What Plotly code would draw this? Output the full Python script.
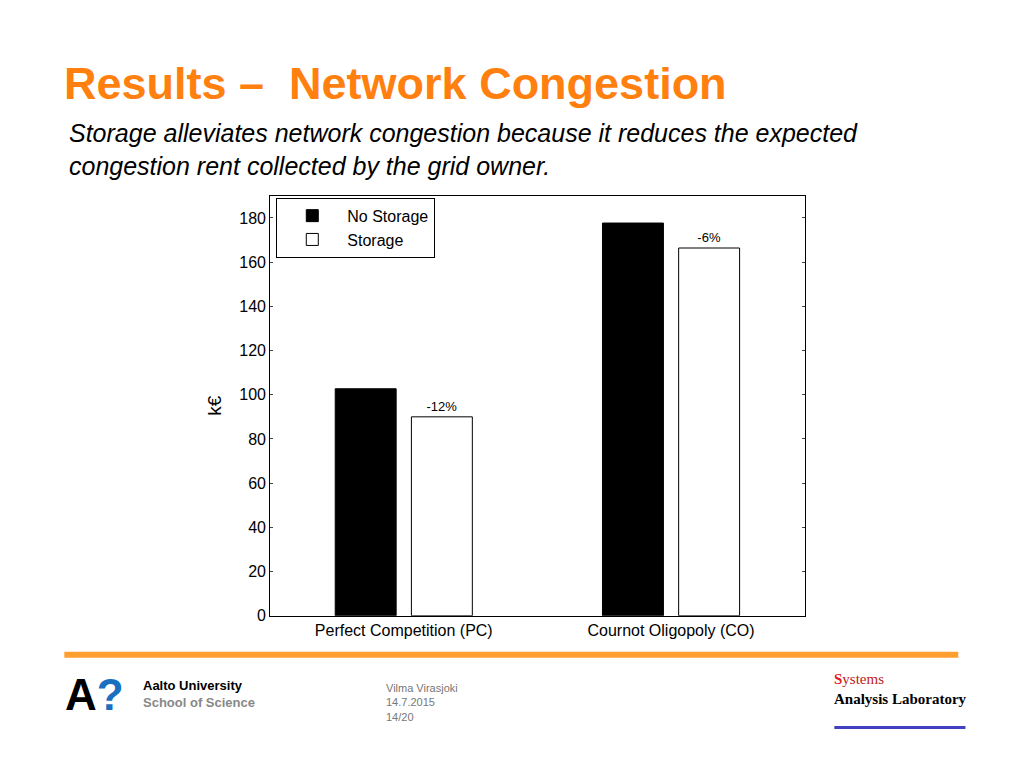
import plotly.graph_objects as go

categories = ["Perfect Competition (PC)", "Cournot Oligopoly (CO)"]
no_storage = [102.7, 177.7]
storage = [90.0, 166.4]
changes = ["-12%", "-6%"]

fig = go.Figure()
fig.add_bar(x=categories, y=no_storage, name="No Storage",
            marker=dict(color="black", line=dict(color="black", width=1)))
fig.add_bar(x=categories, y=storage, name="Storage", text=changes,
            textposition="outside", textfont=dict(size=13, color="black"),
            cliponaxis=False,
            marker=dict(color="white", line=dict(color="black", width=1)))

fig.update_layout(
    width=1024, height=768, margin=dict(l=0, r=0, t=0, b=0),
    paper_bgcolor="white", plot_bgcolor="white",
    font=dict(family="Liberation Sans, Arial", color="black", size=16),
    barmode="group", bargap=0.43, bargroupgap=0.2,
    showlegend=True,
    legend=dict(x=0.262, y=0.75, xanchor="left", yanchor="top",
                bordercolor="black", borderwidth=1, font=dict(size=16),
                bgcolor="white", itemwidth=60, tracegroupgap=0),
    xaxis=dict(domain=[0.256, 0.778], showline=True, linecolor="black",
               mirror=True, ticks="", tickfont=dict(size=16)),
    yaxis=dict(domain=[0.1993, 0.7525], range=[0, 190], dtick=20,
               showline=True, linecolor="black", mirror="allticks",
               ticks="inside", ticklen=3, showgrid=False,
               title=dict(text="k€", standoff=12), tickfont=dict(size=16)),
)

fig.add_annotation(xref="paper", yref="paper", x=0.053, y=0.9, xanchor="left",
                   yanchor="middle", showarrow=False,
                   text="<b>Results –  Network Congestion</b>",
                   font=dict(size=45, color="#FF7F0F"))
fig.add_annotation(xref="paper", yref="paper", x=0.058, y=0.813, xanchor="left",
                   yanchor="middle", showarrow=False, align="left",
                   text="<i>Storage alleviates network congestion because it reduces the expected<br>congestion rent collected by the grid owner.</i>",
                   font=dict(size=25, color="black"))
fig.add_shape(type="line", xref="paper", yref="paper", x0=0.055, x1=0.928,
              y0=0.148, y1=0.148, line=dict(color="#FF9F2F", width=6))
fig.add_annotation(xref="paper", yref="paper", x=0.13, y=0.073, xanchor="left",
                   showarrow=False, text="<b>Aalto University</b><br><b style='color:#888888'>School of Science</b>",
                   align="left", font=dict(size=13, color="black"))
fig.add_annotation(xref="paper", yref="paper", x=0.054, y=0.06, xanchor="left",
                   showarrow=False, text="<b>A</b><b style='color:#1a6fc0'>?</b>",
                   font=dict(size=44, color="black"))
fig.add_annotation(xref="paper", yref="paper", x=0.367, y=0.055, xanchor="left",
                   showarrow=False, align="left",
                   text="Vilma Virasjoki<br>14.7.2015<br>14/20",
                   font=dict(size=11, color="#777777"))
fig.add_annotation(xref="paper", yref="paper", x=0.805, y=0.077, xanchor="left",
                   showarrow=False, align="left",
                   text="<span style='color:#e02020'><b>S</b></span><span style='color:#c02020'>ystems</span><br><b>Analysis Laboratory</b>",
                   font=dict(size=15, family="Liberation Serif, Times New Roman", color="black"))
fig.add_shape(type="line", xref="paper", yref="paper", x0=0.807, x1=0.935,
              y0=0.052, y1=0.052, line=dict(color="#4040c0", width=3))

fig.write_html("out.html")
